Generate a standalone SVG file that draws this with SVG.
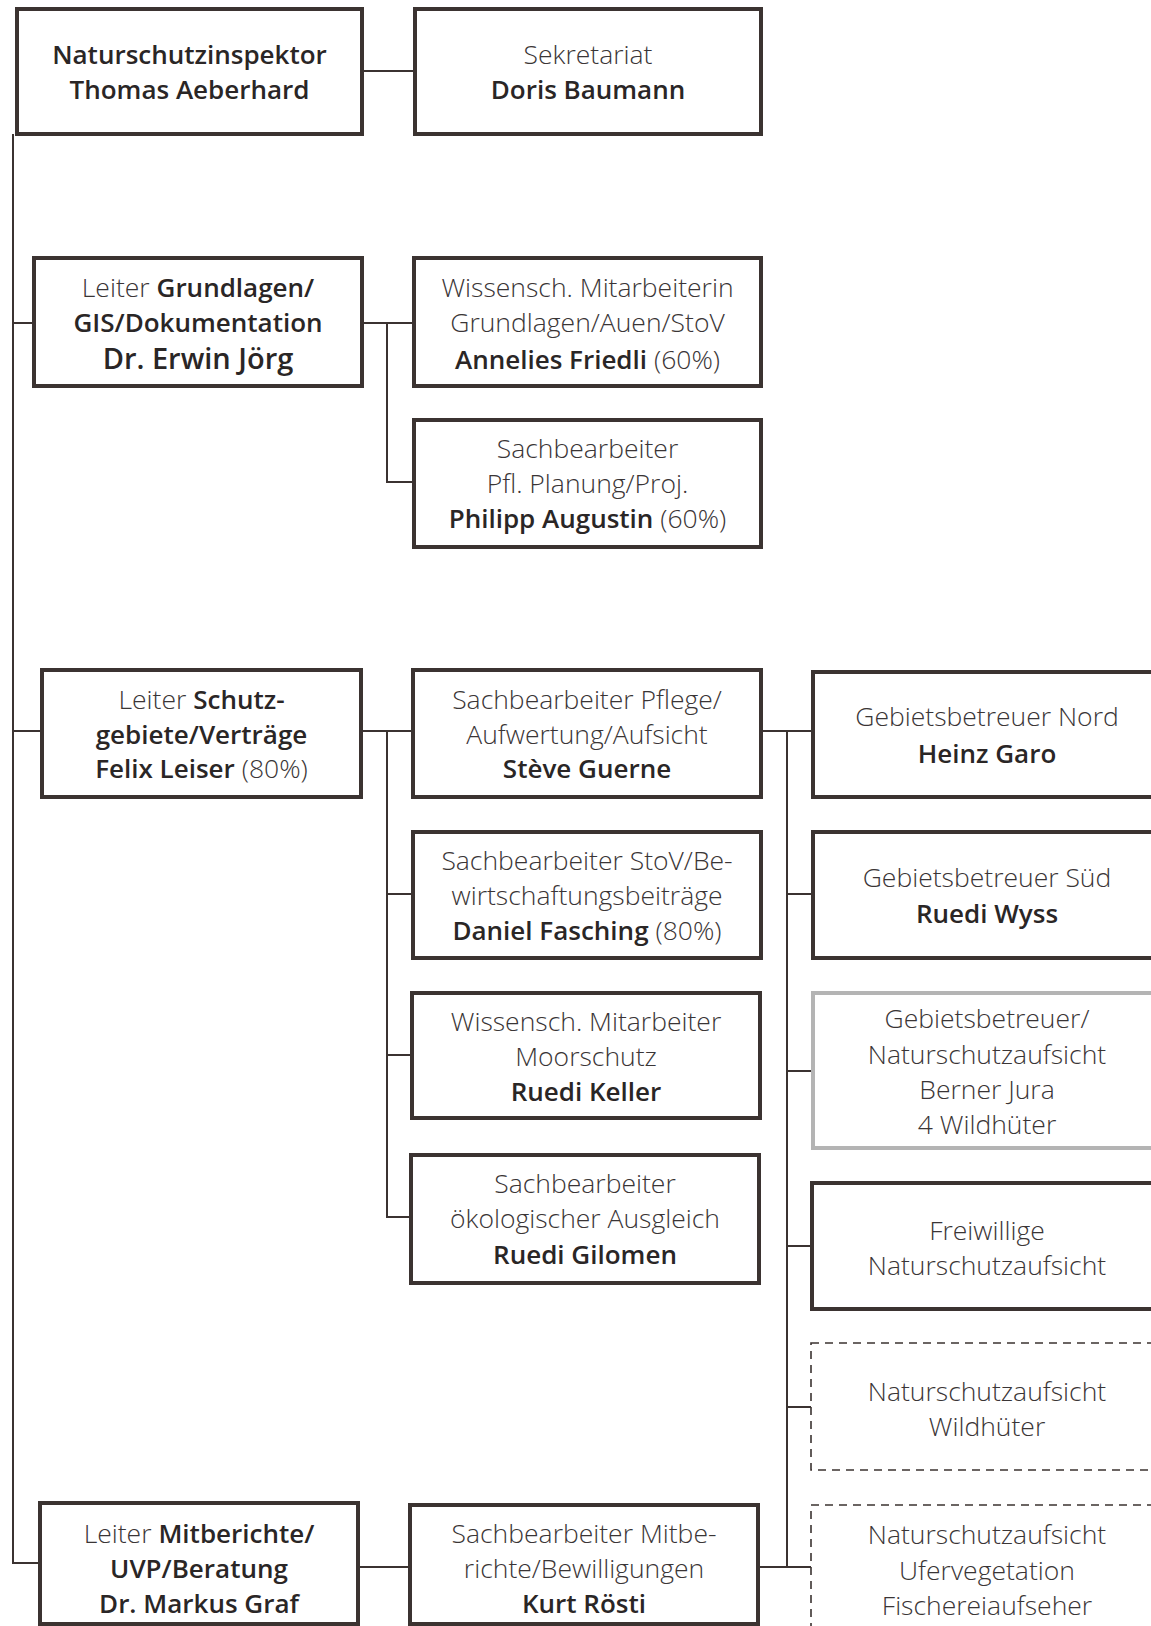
<svg xmlns="http://www.w3.org/2000/svg" width="1151" height="1626" viewBox="0 0 1151 1626">
<style>
.box{fill:#fff;stroke:#3b3331;stroke-width:4}
.gray{fill:#fff;stroke:#b4b4b4;stroke-width:4}
.dash{fill:#fff;stroke:#3b3331;stroke-width:1.6;stroke-dasharray:8 6}
.con{stroke:#3b3331;stroke-width:2;fill:none}
text{font-family:"Open Sans","Noto Sans","Liberation Sans",sans-serif;font-size:26.5px;text-anchor:middle;fill:#3a3536;font-weight:300}
.b{font-weight:600;fill:#2a2626;font-size:26px}
</style>
<rect width="1151" height="1626" fill="#fff"/>
<g id="connectors">
<path class="con" d="M362,71H415"/>
<path class="con" d="M13,134V1563H40"/>
<path class="con" d="M13,323H34M13,731H42"/>
<path class="con" d="M362,323H414M387,323V482H414"/>
<path class="con" d="M361,731H413M387,731V1217H411M387,894H413M387,1055H412"/>
<path class="con" d="M761,731H813M787,731V1567M787,894H813M787,1071H813M787,1246H812M787,1407H811"/>
<path class="con" d="M358,1567H410M758,1567H811"/>
</g>
<g id="n-inspektor">
<rect class="box" x="17" y="9" width="345" height="125"/>
<text x="189.5" y="64"><tspan class="b">Naturschutzinspektor</tspan></text>
<text x="189.5" y="99"><tspan class="b">Thomas Aeberhard</tspan></text>
</g>
<g id="n-sekretariat">
<rect class="box" x="415" y="9" width="346" height="125"/>
<text x="588" y="64">Sekretariat</text>
<text x="588" y="99"><tspan class="b">Doris Baumann</tspan></text>
</g>
<g id="n-grundlagen">
<rect class="box" x="34" y="258" width="328" height="128"/>
<text x="198" y="297">Leiter <tspan class="b">Grundlagen/</tspan></text>
<text x="198" y="332"><tspan class="b">GIS/Dokumentation</tspan></text>
<text x="198" y="369"><tspan class="b" style="font-size:29px">Dr. Erwin Jörg</tspan></text>
</g>
<g id="n-friedli">
<rect class="box" x="414" y="258" width="347" height="128"/>
<text x="587.5" y="297">Wissensch. Mitarbeiterin</text>
<text x="587.5" y="332">Grundlagen/Auen/StoV</text>
<text x="587.5" y="369"><tspan class="b">Annelies Friedli</tspan> (60%)</text>
</g>
<g id="n-augustin">
<rect class="box" x="414" y="420" width="347" height="127"/>
<text x="587.5" y="458">Sachbearbeiter</text>
<text x="587.5" y="493">Pfl. Planung/Proj.</text>
<text x="587.5" y="528"><tspan class="b">Philipp Augustin</tspan> (60%)</text>
</g>
<g id="n-schutzgebiete">
<rect class="box" x="42" y="670" width="319" height="127"/>
<text x="201.5" y="709">Leiter <tspan class="b">Schutz-</tspan></text>
<text x="201.5" y="744"><tspan class="b">gebiete/Verträge</tspan></text>
<text x="201.5" y="778"><tspan class="b">Felix Leiser</tspan> (80%)</text>
</g>
<g id="n-guerne">
<rect class="box" x="413" y="670" width="348" height="127"/>
<text x="587" y="709">Sachbearbeiter Pflege/</text>
<text x="587" y="744">Aufwertung/Aufsicht</text>
<text x="587" y="778"><tspan class="b">Stève Guerne</tspan></text>
</g>
<g id="n-fasching">
<rect class="box" x="413" y="832" width="348" height="126"/>
<text x="587" y="870">Sachbearbeiter StoV/Be-</text>
<text x="587" y="905">wirtschaftungsbeiträge</text>
<text x="587" y="940"><tspan class="b">Daniel Fasching</tspan> (80%)</text>
</g>
<g id="n-keller">
<rect class="box" x="412" y="993" width="348" height="125"/>
<text x="586" y="1031">Wissensch. Mitarbeiter</text>
<text x="586" y="1066">Moorschutz</text>
<text x="586" y="1101"><tspan class="b">Ruedi Keller</tspan></text>
</g>
<g id="n-gilomen">
<rect class="box" x="411" y="1155" width="348" height="128"/>
<text x="585" y="1193">Sachbearbeiter</text>
<text x="585" y="1228">ökologischer Ausgleich</text>
<text x="585" y="1264"><tspan class="b">Ruedi Gilomen</tspan></text>
</g>
<g id="n-nord">
<rect class="box" x="813" y="672" width="348" height="125"/>
<text x="987" y="726">Gebietsbetreuer Nord</text>
<text x="987" y="763"><tspan class="b">Heinz Garo</tspan></text>
</g>
<g id="n-sued">
<rect class="box" x="813" y="832" width="348" height="126"/>
<text x="987" y="887">Gebietsbetreuer Süd</text>
<text x="987" y="923"><tspan class="b">Ruedi Wyss</tspan></text>
</g>
<g id="n-jura">
<rect class="gray" x="813" y="993" width="348" height="155"/>
<text x="987" y="1028">Gebietsbetreuer/</text>
<text x="987" y="1064">Naturschutzaufsicht</text>
<text x="987" y="1099">Berner Jura</text>
<text x="987" y="1134">4 Wildhüter</text>
</g>
<g id="n-freiwillige">
<rect class="box" x="812" y="1183" width="349" height="126"/>
<text x="987" y="1240">Freiwillige</text>
<text x="987" y="1275">Naturschutzaufsicht</text>
</g>
<g id="n-wildhueter">
<rect class="dash" x="811" y="1343" width="350" height="127"/>
<text x="987" y="1401">Naturschutzaufsicht</text>
<text x="987" y="1436">Wildhüter</text>
</g>
<g id="n-ufer">
<rect class="dash" x="811" y="1505" width="350" height="140"/>
<text x="987" y="1544">Naturschutzaufsicht</text>
<text x="987" y="1580">Ufervegetation</text>
<text x="987" y="1615">Fischereiaufseher</text>
</g>
<g id="n-mitberichte">
<rect class="box" x="40" y="1503" width="318" height="121"/>
<text x="199" y="1543">Leiter <tspan class="b">Mitberichte/</tspan></text>
<text x="199" y="1578"><tspan class="b">UVP/Beratung</tspan></text>
<text x="199" y="1613"><tspan class="b">Dr. Markus Graf</tspan></text>
</g>
<g id="n-roesti">
<rect class="box" x="410" y="1505" width="348" height="119"/>
<text x="584" y="1543">Sachbearbeiter Mitbe-</text>
<text x="584" y="1578">richte/Bewilligungen</text>
<text x="584" y="1613"><tspan class="b">Kurt Rösti</tspan></text>
</g>
</svg>
